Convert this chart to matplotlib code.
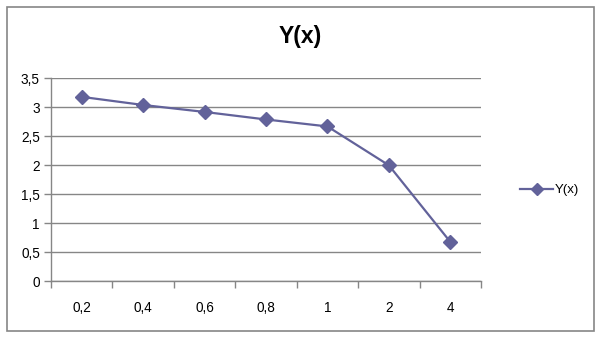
import matplotlib.pyplot as plt
import matplotlib.patches as mpatches
import numpy as np

# Excel-style line chart Y(x)
categories = ["0,2", "0,4", "0,6", "0,8", "1", "2", "4"]
y_values = [3.18, 3.04, 2.92, 2.79, 2.67, 2.0, 0.68]
y_ticks = [0, 0.5, 1, 1.5, 2, 2.5, 3, 3.5]
y_tick_labels = ["0", "0,5", "1", "1,5", "2", "2,5", "3", "3,5"]

plt.rcParams['font.family'] = ['Liberation Sans', 'DejaVu Sans']

line_col = '#62629A'
grid_col = '#868686'

fig = plt.figure(figsize=(6.02, 3.37), dpi=100)
ax = fig.add_axes([51 / 602, (337 - 281.3) / 337, 430 / 602, 203 / 337])

x = np.arange(len(categories))
ax.plot(x, y_values, color=line_col, lw=1.6, marker='D', ms=7.5,
        mec=line_col, mfc=line_col, label='Y(x)', zorder=3)

ax.set_xlim(-0.5, len(categories) - 0.5)
ax.set_ylim(0, 3.5)
ax.set_yticks(y_ticks)
ax.set_yticklabels(y_tick_labels, fontsize=9.8)
ax.yaxis.grid(True, color=grid_col, lw=1)
ax.set_axisbelow(True)

ax.set_xticks(x)
ax.set_xticklabels(categories, fontsize=9.8)
ax.set_xticks(np.arange(-0.5, len(categories)), minor=True)
ax.tick_params(axis='x', which='major', length=0, pad=14)
ax.tick_params(axis='x', which='minor', length=5, color=grid_col, width=1)
ax.tick_params(axis='y', length=5, color=grid_col, width=1, pad=3)

for s in ['top', 'right']:
    ax.spines[s].set_visible(False)
for s in ['left', 'bottom']:
    ax.spines[s].set_color(grid_col)
    ax.spines[s].set_linewidth(1)

fig.text(300 / 602, 1 - 36 / 337, 'Y(x)', ha='center', va='center',
         fontsize=16.5, fontweight='bold')

ax.legend(loc='center left', bbox_to_anchor=(515 / 602, 1 - 190 / 337),
          bbox_transform=fig.transFigure, frameon=False, fontsize=9.5,
          handlelength=2.5, handletextpad=0.15, borderaxespad=0,
          markerscale=0.75)

fig.patches.append(mpatches.Rectangle((6.5 / 602, 1 - 330.5 / 337),
                                      587.5 / 602, 324 / 337,
                                      transform=fig.transFigure, fill=False,
                                      edgecolor=grid_col, lw=1.2))

fig.savefig('out.png', dpi=100)
